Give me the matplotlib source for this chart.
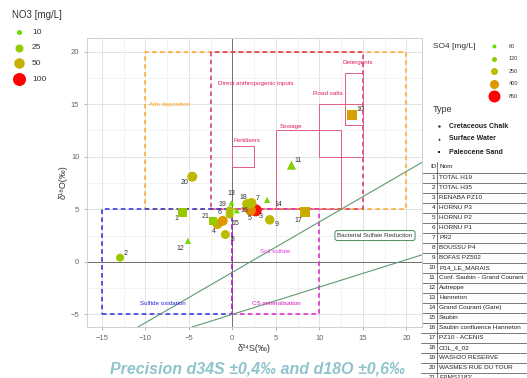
import numpy as np
import matplotlib.pyplot as plt
from matplotlib.colors import LinearSegmentedColormap

plt.rcParams['font.family'] = ['Liberation Sans', 'DejaVu Sans']

# isotope data per sampling point
ids = list(range(1, 22))
d34s = [-5.7, -12.9, 2.7, -1.7, 2.1, -1.1, 2.2, -0.8, 4.3, 13.8, 6.8,
        -5.1, -0.1, 4.0, -0.3, 0.5, 8.4, 1.7, -0.3, -4.6, -2.2]
d18o = [4.7, 0.4, 4.9, 3.6, 4.9, 3.9, 5.6, 2.6, 4.0, 14.0, 9.2,
        2.0, 5.6, 5.9, 4.5, 4.9, 4.7, 5.5, 4.9, 8.1, 3.9]
types = ['sand', 'chalk', 'chalk', 'chalk', 'chalk', 'chalk', 'chalk', 'chalk',
         'chalk', 'sand', 'surface', 'surface', 'surface', 'surface', 'chalk',
         'surface', 'sand', 'chalk', 'chalk', 'chalk', 'sand']
so4 = [150, 150, 620, 330, 430, 400, 260, 250, 260, 370, 100,
       80, 80, 90, 220, 80, 320, 230, 200, 260, 130]
no3 = [30, 25, 80, 45, 55, 45, 45, 35, 40, 45, 25,
       12, 10, 12, 25, 12, 45, 45, 25, 45, 25]
names = ['TOTAL H19', 'TOTAL H35', 'RENABA PZ10', 'HORNU P3', 'HORNU P2',
         'HORNU P1', 'PR2', 'BOUSSU P4', 'BOFAS PZ502', 'P14_LE_MARAIS',
         'Conf. Saubin - Grand Courant', 'Autreppe', 'Hanneton',
         'Grand Courant (Gare)', 'Saubin', 'Saubin confluence Hanneton',
         'PZ10 - ACENIS', 'COL_4_02', 'WASH2O RESERVE', 'WASMES RUE DU TOUR',
         "EPMS1183'"]

# legend scales
no3_levels = [10, 25, 50, 100]
no3_diam_px = [5, 8, 10.5, 13]
so4_levels = [60, 120, 250, 400, 650]
so4_colors = ['#66dd00', '#8fcc00', '#bbbb00', '#dd9900', '#ff0000']
so4_diam_px = [4, 5, 7, 9, 12]
type_names = ['Cretaceous Chalk', 'Surface Water', 'Paleocene Sand']
type_keys = ['chalk', 'surface', 'sand']
type_markers = {'chalk': 'o', 'surface': '^', 'sand': 's'}

# source domains: (label, x0, x1, y0, y1)
dashed_boxes = [('Atm deposition', -10, 20, 5, 20),
                ('Direct anthropogenic inputs', -2.5, 15, 5, 20),
                ('Sulfide oxidation', -15, 0, -5, 5),
                ('CS mineralisation', 0, 10, -5, 5)]
solid_boxes = [('Fertilisers', 0, 2.5, 9, 11),
               ('Sewage', 5, 12.5, 5, 12.5),
               ('Road salts', 10, 15, 10, 15),
               ('Detergents', 13, 15, 13, 18)]
# bacterial sulfate reduction trend lines (intercept, slope)
bsr_lines = [(-1.0, 0.48), (-5.0, 0.26)]

pos = [(v - so4_levels[0]) / (so4_levels[-1] - so4_levels[0]) for v in so4_levels]
cmap = LinearSegmentedColormap.from_list('so4', list(zip(pos, so4_colors)))


def so4_color(v):
    return cmap((v - so4_levels[0]) / (so4_levels[-1] - so4_levels[0]))


def px_area(d):
    return (d * 0.72) ** 2


fig = plt.figure(figsize=(5.27, 3.78), dpi=100)

# overlay in pixel units for legends and the ID table
ov = fig.add_axes([0, 0, 1, 1])
ov.set_xlim(0, 527)
ov.set_ylim(378, 0)
ov.axis('off')

ax = fig.add_axes([87 / 527, 1 - 327 / 378, 335 / 527, 289 / 378])
ax.set_xlim(-16.7, 21.8)
ax.set_ylim(-6.2, 21.3)
ax.set_xticks(np.arange(-15, 21, 5))
ax.set_yticks(np.arange(-5, 21, 5))
ax.set_xticks(np.arange(-15, 22, 2.5), minor=True)
ax.set_yticks(np.arange(-5, 21.3, 2.5), minor=True)
ax.grid(True, which='major', color='#e3e3e3', lw=0.7)
ax.grid(True, which='minor', color='#efefef', lw=0.5)
ax.tick_params(which='major', labelsize=5.5, labelcolor='#666666', color='#999999', length=2, width=0.5)
ax.tick_params(which='minor', length=0)
for s in ax.spines.values():
    s.set_color('#d0d0d0')
    s.set_linewidth(0.7)
ax.set_axisbelow(True)

ax.axhline(0, color='#707070', lw=0.7, zorder=1)
ax.axvline(0, color='#707070', lw=0.7, zorder=1)

box_styles = {'Atm deposition': '#ffaa22',
              'Direct anthropogenic inputs': '#e0306a',
              'Sulfide oxidation': '#2a2ae0',
              'CS mineralisation': '#dd22cc'}
for label, x0, x1, y0, y1 in dashed_boxes:
    ax.plot([x0, x1, x1, x0, x0], [y0, y0, y1, y1, y0], color=box_styles[label],
            lw=1.1, ls=(0, (3, 2.2)), zorder=2)
for label, x0, x1, y0, y1 in solid_boxes:
    ax.plot([x0, x1, x1, x0, x0], [y0, y0, y1, y1, y0], color='#e06080', lw=0.7, zorder=2)

for b, m in bsr_lines:
    ax.axline((0, b), slope=m, color='#5e9a6e', lw=0.8, zorder=2)

ax.text(-9.6, 15, 'Atm deposition', color='#ffa010', fontsize=4.5, va='center')
ax.text(-1.7, 17, 'Direct anthropogenic inputs', color='#e0205a', fontsize=4.5, va='center')
ax.text(0.1, 11.5, 'Fertilisers', color='#e0205a', fontsize=4.5, va='center')
ax.text(5.5, 12.9, 'Sewage', color='#e0205a', fontsize=4.5, va='center')
ax.text(9.3, 16.0, 'Road salts', color='#e0205a', fontsize=4.5, va='center')
ax.text(12.7, 19.0, 'Detergents', color='#e0205a', fontsize=4.5, va='center')
ax.text(-8.0, -4.0, 'Sulfide oxidation', color='#2020e0', fontsize=4.5, va='center', ha='center')
ax.text(5.0, -4.0, 'CS mineralisation', color='#dd11bb', fontsize=4.5, va='center', ha='center')
ax.text(4.9, 1.0, 'Soil sulfate', color='#dd44dd', fontsize=4.5, va='center', ha='center')
ax.text(16.4, 2.5, 'Bacterial Sulfate Reduction', color='#333333', fontsize=4.5,
        va='center', ha='center',
        bbox=dict(boxstyle='round,pad=0.4', fc='white', ec='#4a8a5a', lw=0.7))

# sample points: colour = SO4, size = NO3, marker = aquifer type
sizes = [px_area(np.interp(v, no3_levels, no3_diam_px)) for v in no3]
for key in type_keys:
    idx = [i for i, t in enumerate(types) if t == key]
    ax.scatter([d34s[i] for i in idx], [d18o[i] for i in idx],
               s=[sizes[i] * (1.3 if key == 'surface' else 1.0) for i in idx],
               c=[so4_color(so4[i]) for i in idx], marker=type_markers[key],
               linewidths=0, zorder=4)

label_offsets = {1: (-6, 6), 2: (6, -4), 3: (5, 6), 4: (-4, 7), 5: (-1, 8),
                 6: (-3, -8), 7: (6, -4), 8: (7, 5), 9: (7, 5), 10: (8, -5),
                 11: (7, -5), 12: (-8, 8), 13: (0, -9), 14: (11, 5), 15: (6, 9),
                 16: (8, 0), 17: (-7, 8), 18: (-4, -7), 19: (-7, -6), 20: (-8, 6),
                 21: (-8, -4)}
for i, pid in enumerate(ids):
    dx, dy = label_offsets[pid]
    ax.annotate(str(pid), (d34s[i], d18o[i]), xytext=(dx * 0.72, -dy * 0.72),
                textcoords='offset points', fontsize=5, color='#333333',
                ha='center', va='center', zorder=5)

ax.set_xlabel('δ³⁴S(‰)', fontsize=6.5, color='#333333', labelpad=2)
ax.set_ylabel('δ¹⁸O(‰)', fontsize=6.5, color='#333333', labelpad=2)

# NO3 size legend
ov.text(12, 15, 'NO3 [mg/L]', fontsize=7, color='#333333', va='center')
for k, (lev, d) in enumerate(zip(no3_levels, no3_diam_px)):
    yk = 32 + k * 15.7
    ov.scatter(19, yk, s=px_area(d), color=so4_color([60, 120, 300, 650][k]), linewidths=0)
    ov.text(32, yk, str(lev), fontsize=6, color='#333333', va='center')

# SO4 colour legend
ov.text(433, 47, 'SO4 [mg/L]', fontsize=6, color='#333333', va='center')
for k, (lev, col, d) in enumerate(zip(so4_levels, so4_colors, so4_diam_px)):
    yk = 46 + k * 12.6
    ov.scatter(494, yk, s=px_area(d), color=col, linewidths=0)
    ov.text(509, yk, str(lev), fontsize=4, color='#333333', va='center')

# aquifer type legend
ov.text(433, 110, 'Type', fontsize=6.5, color='#333333', va='center')
for k, (nm, key) in enumerate(zip(type_names, type_keys)):
    yk = 126 + k * 13
    ov.scatter(439, yk, s=3, color='#222222', marker=type_markers[key], linewidths=0)
    ov.text(449, yk, nm, fontsize=5, color='#222222', weight='bold', va='center')

# ID table
row_h = 10
ov.text(430, 167, 'ID', fontsize=4.6, color='#222222', va='center')
ov.text(439, 167, 'Nom', fontsize=4.6, color='#222222', va='center')
ov.plot([437, 437], [162, 378], color='#444444', lw=0.5)
for k, (pid, nm) in enumerate(zip(ids, names)):
    yk = 177.5 + k * row_h
    ov.text(435.5, yk, str(pid), fontsize=4.6, color='#222222', va='center', ha='right')
    ov.text(439, yk, nm, fontsize=4.6, color='#222222', va='center')
for k in range(len(ids) + 1):
    yl = 172.5 + k * row_h
    ov.plot([421, 527], [yl, yl], color='#444444', lw=0.5)

fig.text(110 / 527, 1 - 369 / 378, 'Precision d34S ±0,4‰ and d18O ±0,6‰',
         fontsize=11.5, color='#8fc4cd', style='italic', weight='bold', va='center')

fig.savefig('out.png', dpi=100)
